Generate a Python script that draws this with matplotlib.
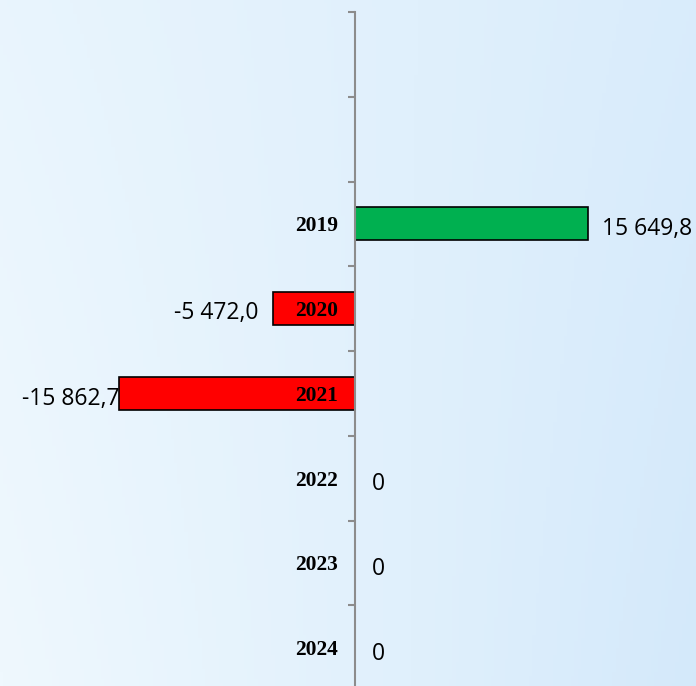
import numpy as np
import matplotlib.pyplot as plt
from matplotlib.colors import LinearSegmentedColormap

# rows from top to bottom; first two slots are empty in the original
years = ["", "", "2019", "2020", "2021", "2022", "2023", "2024"]
values = [None, None, 15649.8, -5472.0, -15862.7, 0.0, 0.0, 0.0]


def fmt(v):
    if v == 0:
        return "0"
    s = f"{abs(v):,.1f}".replace(",", " ").replace(".", ",")
    return ("-" if v < 0 else "") + s


PX = 0.72  # points per pixel at dpi 100

fig = plt.figure(figsize=(6.96, 6.86), dpi=100)

# soft blue background
bg = fig.add_axes([0, 0, 1, 1], zorder=-10)
xx, yy = np.meshgrid(np.linspace(0, 1, 200), np.linspace(0, 1, 200))
t = 0.7 * xx + 0.2 * yy * (1 - xx) + 0.15 * (1 - yy) * xx
cmap = LinearSegmentedColormap.from_list("bgblue", ["#EFF8FE", "#E0F0FC", "#CFE6FA"])
bg.imshow(t, cmap=cmap, aspect="auto", extent=[0, 1, 0, 1], origin="lower", vmin=0, vmax=1)
bg.axis("off")

ax = fig.add_axes([0, 1 - 690 / 686, 1, (690 - 12) / 686])
ax.patch.set_alpha(0)

pos = np.arange(len(years))
bar_vals = [v if v is not None else 0 for v in values]
colors = ["#00B050" if v > 0 else "#FF0000" for v in bar_vals]
edges = ["black" if v != 0 else "none" for v in bar_vals]
ax.barh(pos, bar_vals, height=0.39, color=colors, edgecolor=edges, linewidth=1.2, zorder=2)

ax.set_xlim(-23830, 22890)
ax.set_ylim(len(years) - 0.5, -0.5)

for sp in ["top", "right", "bottom"]:
    ax.spines[sp].set_visible(False)
ax.spines["left"].set_position(("data", 0))
ax.spines["left"].set_color("#8C8C8C")
ax.spines["left"].set_linewidth(1.5)
ax.spines["left"].set_zorder(3)
ax.set_xticks([])

# tick marks on category boundaries
ax.set_yticks(pos - 0.5)
ax.set_yticklabels([])
ax.tick_params(axis="y", which="major", length=5, width=1.5, color="#8C8C8C")

# year labels drawn on top of the bars
for p, y in zip(pos, years):
    if not y:
        continue
    ax.annotate(y, (0, p), xytext=(-17 * PX, -2.5 * PX), textcoords="offset points",
                ha="right", va="center", fontsize=15.5, fontfamily="Liberation Serif",
                fontweight="bold", color="black", zorder=5, annotation_clip=False)

# value labels
for p, v in zip(pos, values):
    if v is None:
        continue
    if v > 0:
        dx, dy, ha = 14, -5, "left"
    elif v < -10000:
        dx, dy, ha = 1, -6, "right"
    elif v < 0:
        dx, dy, ha = -15, -4, "right"
    else:
        dx, dy, ha = 17, -6, "left"
    ax.annotate(fmt(v), (v, p), xytext=(dx * PX, dy * PX), textcoords="offset points",
                ha=ha, va="center", fontsize=16.5, fontfamily="Open Sans", color="black",
                zorder=5, annotation_clip=False)

fig.savefig("out.png", dpi=100)
